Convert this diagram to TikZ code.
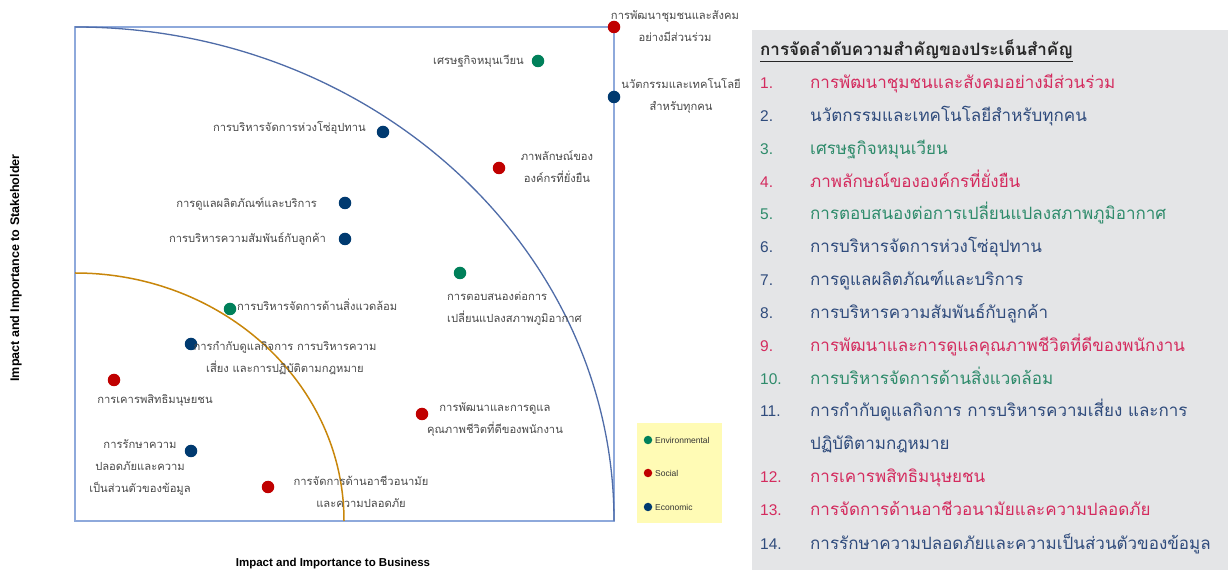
\documentclass[tikz,border=0pt]{standalone}
\usepackage{fontspec}
\setmainfont{Liberation Sans}
\newfontfamily\thai[Script=Thai]{Loma}
\newfontfamily\lat{Liberation Sans}
\definecolor{dotred}{HTML}{C00000}
\definecolor{dotnavy}{HTML}{003A70}
\definecolor{dotgreen}{HTML}{00805A}
\definecolor{txtred}{HTML}{D42B5E}
\definecolor{txtnavy}{HTML}{2F4B7C}
\definecolor{txtgreen}{HTML}{2E8B6B}
\definecolor{lblgray}{HTML}{4A4A4A}
\definecolor{panelgray}{HTML}{E4E5E7}
\definecolor{boxblue}{HTML}{8EA9DB}
\definecolor{arcblue}{HTML}{4F6CA8}
\definecolor{arcorange}{HTML}{C8860A}
\definecolor{legyellow}{HTML}{FFFBB5}
\tikzset{
  dot/.style={circle,inner sep=0pt,minimum size=12.5pt},
  red/.style={dot,fill=dotred},
  navy/.style={dot,fill=dotnavy},
  green/.style={dot,fill=dotgreen},
  lbl/.style={inner sep=0pt,text=lblgray,font=\thai\fontsize{11.2}{22}\selectfont,align=center},
  ldot/.style={circle,inner sep=0pt,minimum size=8.5pt},
  legtxt/.style={inner sep=0pt,anchor=west,font=\lat\fontsize{8.5}{10}\selectfont,text=black!80},
  num/.style={inner sep=0pt,anchor=base west,font=\lat\fontsize{15.5}{18}\selectfont},
  item/.style={inner sep=0pt,anchor=base west,font=\thai\fontsize{17}{33}\selectfont},
  axis/.style={inner sep=0pt,font=\lat\bfseries\fontsize{11.5}{13}\selectfont}
}
\begin{document}
\begin{tikzpicture}[x=1pt,y=1pt]
\useasboundingbox (0,0) rectangle (1228,570);
\fill[white] (0,0) rectangle (1228,570);
% panel
\fill[panelgray] (752,0) rectangle (1228,540);
% chart box
\draw[boxblue,line width=1.3pt] (75,49) rectangle (614,543);
\draw[arcblue,line width=1.3pt] (75,543) arc[start angle=90,end angle=0,x radius=539,y radius=494];
\draw[arcorange,line width=1.5pt] (75,297) arc[start angle=90,end angle=0,x radius=269,y radius=248];
% dots
\node[red] (d1) at (614,543) {};
\node[navy] (d2) at (614,473) {};
\node[green] (d3) at (538,509) {};
\node[red] (d4) at (499,402) {};
\node[green] (d5) at (460,297) {};
\node[navy] (d6) at (383,438) {};
\node[navy] (d7) at (345,367) {};
\node[navy] (d8) at (345,331) {};
\node[red] (d9) at (422,156) {};
\node[green] (d10) at (230,261) {};
\node[navy] (d11) at (191,226) {};
\node[red] (d12) at (114,190) {};
\node[red] (d13) at (268,83) {};
\node[navy] (d14) at (191,119) {};
% labels
\node[lbl] (l1) at (675,544) {การพัฒนาชุมชนและสังคม\\อย่างมีส่วนร่วม};
\node[lbl] (l2) at (681,474) {นวัตกรรมและเทคโนโลยี\\สำหรับทุกคน};
\node[lbl,anchor=east] (l3) at (524,509) {เศรษฐกิจหมุนเวียน};
\node[lbl] (l4) at (557,403) {ภาพลักษณ์ของ\\องค์กรที่ยั่งยืน};
\node[lbl,anchor=west,align=left] (l5) at (447,261.5) {การตอบสนองต่อการ\\เปลี่ยนแปลงสภาพภูมิอากาศ};
\node[lbl,anchor=east] (l6) at (366,442) {การบริหารจัดการห่วงโซ่อุปทาน};
\node[lbl,anchor=east] (l7) at (317,366) {การดูแลผลิตภัณฑ์และบริการ};
\node[lbl,anchor=east] (l8) at (326,331) {การบริหารความสัมพันธ์กับลูกค้า};
\node[lbl] (l9) at (495,151) {การพัฒนาและการดูแล\\คุณภาพชีวิตที่ดีของพนักงาน};
\node[lbl,anchor=west] (l10) at (237,265) {การบริหารจัดการด้านสิ่งแวดล้อม};
\node[lbl] (l11) at (285,212) {การกำกับดูแลกิจการ การบริหารความ\\เสี่ยง และการปฏิบัติตามกฎหมาย};
\node[lbl] (l12) at (155,170) {การเคารพสิทธิมนุษยชน};
\node[lbl] (l13) at (361,78) {การจัดการด้านอาชีวอนามัย\\และความปลอดภัย};
\node[lbl] (l14) at (140,103) {การรักษาความ\\ปลอดภัยและความ\\เป็นส่วนตัวของข้อมูล};
% legend
\fill[legyellow] (637,47) rectangle (722,147);
\node[ldot,fill=dotgreen] (g1) at (648,130) {};
\node[legtxt] (gt1) at (655,130) {Environmental};
\node[ldot,fill=dotred] (g2) at (648,97) {};
\node[legtxt] (gt2) at (655,97) {Social};
\node[ldot,fill=dotnavy] (g3) at (648,63) {};
\node[legtxt] (gt3) at (655,63) {Economic};
% axis labels
\node[axis] (ax) at (333,6) {Impact and Importance to Business};
\node[axis,rotate=90,font=\lat\bfseries\fontsize{12.5}{14}\selectfont] (ay) at (16,302) {Impact and Importance to Stakeholder};
% panel text
\node[item,font=\thai\bfseries\fontsize{17}{20}\selectfont,text=black!85] (title) at (760,514) {\underline{การจัดลำดับความสำคัญของประเด็นสำคัญ}};
\node[num,text=txtred] (n1) at (760,481) {1.};
\node[item,text=txtred] (t1) at (810,481) {การพัฒนาชุมชนและสังคมอย่างมีส่วนร่วม};
\node[num,text=txtnavy] (n2) at (760,448) {2.};
\node[item,text=txtnavy] (t2) at (810,448) {นวัตกรรมและเทคโนโลยีสำหรับทุกคน};
\node[num,text=txtgreen] (n3) at (760,415) {3.};
\node[item,text=txtgreen] (t3) at (810,415) {เศรษฐกิจหมุนเวียน};
\node[num,text=txtred] (n4) at (760,382) {4.};
\node[item,text=txtred] (t4) at (810,382) {ภาพลักษณ์ขององค์กรที่ยั่งยืน};
\node[num,text=txtgreen] (n5) at (760,350) {5.};
\node[item,text=txtgreen] (t5) at (810,350) {การตอบสนองต่อการเปลี่ยนแปลงสภาพภูมิอากาศ};
\node[num,text=txtnavy] (n6) at (760,317) {6.};
\node[item,text=txtnavy] (t6) at (810,317) {การบริหารจัดการห่วงโซ่อุปทาน};
\node[num,text=txtnavy] (n7) at (760,284) {7.};
\node[item,text=txtnavy] (t7) at (810,284) {การดูแลผลิตภัณฑ์และบริการ};
\node[num,text=txtnavy] (n8) at (760,251) {8.};
\node[item,text=txtnavy] (t8) at (810,251) {การบริหารความสัมพันธ์กับลูกค้า};
\node[num,text=txtred] (n9) at (760,218) {9.};
\node[item,text=txtred] (t9) at (810,218) {การพัฒนาและการดูแลคุณภาพชีวิตที่ดีของพนักงาน};
\node[num,text=txtgreen] (n10) at (760,185) {10.};
\node[item,text=txtgreen] (t10) at (810,185) {การบริหารจัดการด้านสิ่งแวดล้อม};
\node[num,text=txtnavy] (n11) at (760,153) {11.};
\node[item,text=txtnavy] (t11) at (810,153) {การกำกับดูแลกิจการ การบริหารความเสี่ยง และการ};
\node[item,text=txtnavy] (t11b) at (810,120) {ปฏิบัติตามกฎหมาย};
\node[num,text=txtred] (n12) at (760,87) {12.};
\node[item,text=txtred] (t12) at (810,87) {การเคารพสิทธิมนุษยชน};
\node[num,text=txtred] (n13) at (760,54) {13.};
\node[item,text=txtred] (t13) at (810,54) {การจัดการด้านอาชีวอนามัยและความปลอดภัย};
\node[num,text=txtnavy] (n14) at (760,21) {14.};
\node[item,text=txtnavy] (t14) at (810,21) {การรักษาความปลอดภัยและความเป็นส่วนตัวของข้อมูล};
\end{tikzpicture}
\end{document}
